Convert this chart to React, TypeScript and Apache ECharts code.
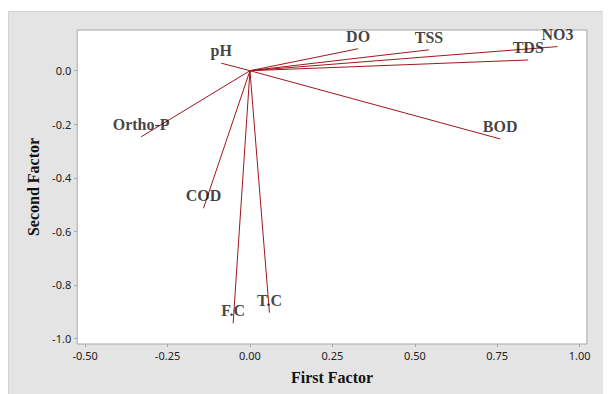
import React, { useEffect, useRef } from "react";
import * as echarts from "echarts";

const variables = ["pH", "DO", "TSS", "NO3", "TDS", "BOD", "Ortho-P", "COD", "F.C", "T.C"];
const firstFactor = [-0.087, 0.328, 0.543, 0.933, 0.844, 0.759, -0.330, -0.141, -0.051, 0.059];
const secondFactor = [0.028, 0.082, 0.078, 0.090, 0.040, -0.255, -0.247, -0.514, -0.944, -0.904];
const xTicks = [-0.5, -0.25, 0, 0.25, 0.5, 0.75, 1.0];
const yTicks = [0, -0.2, -0.4, -0.6, -0.8, -1.0];

const LINE_COLOR = "#A0161B";
const SERIF = "'Liberation Serif', 'Times New Roman', serif";
const SANS = "'Noto Sans', 'Open Sans', sans-serif";

export default function App() {
  const ref = useRef<HTMLDivElement>(null);
  useEffect(() => {
    if (!ref.current) return;
    const chart = echarts.init(ref.current, undefined, { renderer: "svg" });
    const lineSeries = variables.map((name, i) => ({
      type: "line",
      name,
      data: [
        [0, 0],
        [firstFactor[i], secondFactor[i]],
      ],
      symbol: "none",
      lineStyle: { color: LINE_COLOR, width: 1 },
      silent: true,
      z: 2,
    }));
    const labelSeries = {
      type: "scatter",
      symbolSize: 0,
      data: variables.map((name, i) => ({ name, value: [firstFactor[i], secondFactor[i]] })),
      label: {
        show: true,
        position: "inside",
        offset: [0, -12.5],
        formatter: (p: any) => p.name,
        fontFamily: SERIF,
        fontWeight: "bold",
        fontSize: 16,
        color: "#111",
        align: "center",
        verticalAlign: "middle",
      },
      z: 3,
    };
    chart.setOption({
      animation: false,
      backgroundColor: "transparent",
      graphic: [
        {
          type: "rect",
          shape: { x: 0.5, y: 3.5, width: 800, height: 600 },
          style: { fill: "#E4E4E4", stroke: "#D2D2D2", lineWidth: 1 },
          z: -10,
          silent: true,
        },
      ],
      grid: {
        show: true,
        left: 69.2,
        top: 22,
        right: 24.1,
        bottom: 50,
        backgroundColor: "#FFFFFF",
        borderColor: "#A8A8A8",
        borderWidth: 1,
      },
      xAxis: {
        type: "value",
        min: -0.524,
        max: 1.022,
        name: "First Factor",
        nameLocation: "middle",
        nameGap: 25,
        nameTextStyle: { fontFamily: SERIF, fontWeight: "bold", fontSize: 16, color: "#111" },
        axisLine: { show: false, onZero: false },
        splitLine: { show: false },
        axisTick: {
          show: true,
          length: 3,
          lineStyle: { color: "#A8A8A8" },
          customValues: xTicks,
        },
        axisLabel: {
          customValues: xTicks,
          formatter: (v: number) => v.toFixed(2),
          fontFamily: SANS,
          fontSize: 11,
          color: "#222",
          margin: 6,
        },
      },
      yAxis: {
        type: "value",
        min: -1.021,
        max: 0.152,
        name: "Second Factor",
        nameLocation: "middle",
        nameGap: 34,
        nameTextStyle: { fontFamily: SERIF, fontWeight: "bold", fontSize: 16, color: "#111" },
        axisLine: { show: false, onZero: false },
        splitLine: { show: false },
        axisTick: {
          show: true,
          length: 3,
          lineStyle: { color: "#A8A8A8" },
          customValues: yTicks,
        },
        axisLabel: {
          customValues: yTicks,
          formatter: (v: number) => v.toFixed(1),
          fontFamily: SANS,
          fontSize: 11,
          color: "#222",
          margin: 6,
        },
      },
      series: [...lineSeries, labelSeries],
    });
    return () => chart.dispose();
  }, []);
  return <div ref={ref} style={{ width: 603, height: 386, background: "#fff" }} />;
}
